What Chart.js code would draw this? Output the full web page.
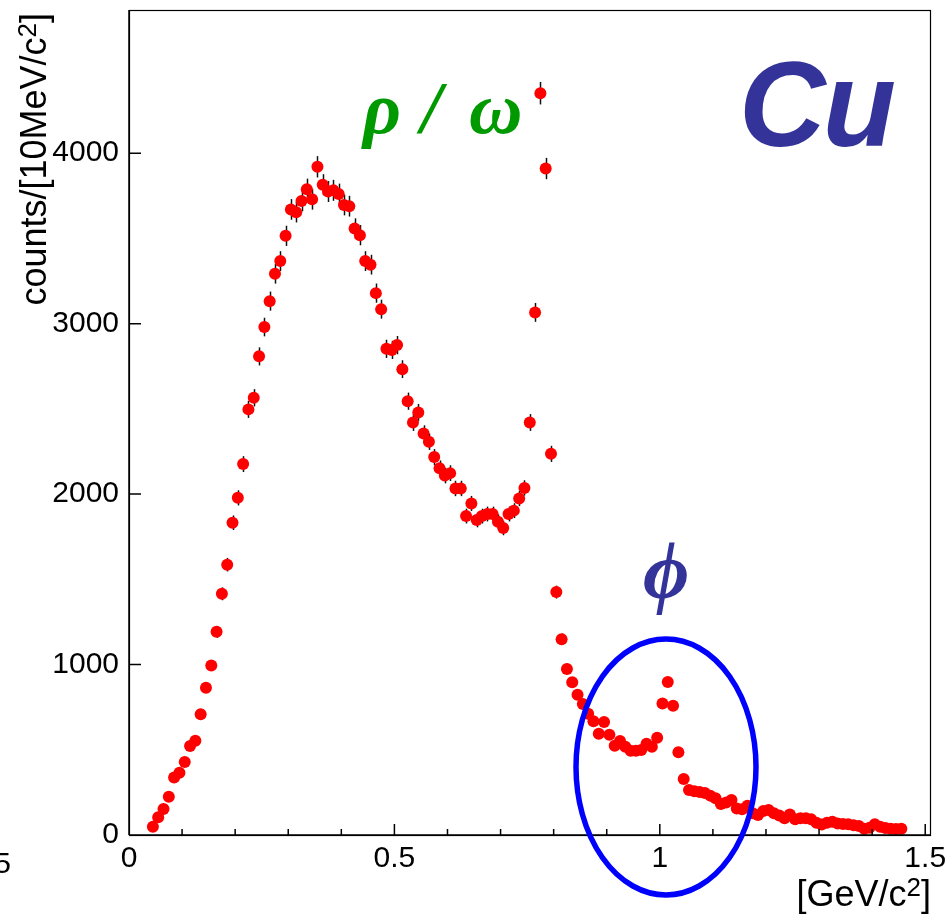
<!DOCTYPE html>
<html>
<head>
<meta charset="utf-8">
<script src="https://cdn.jsdelivr.net/npm/chart.js@4.4.1/dist/chart.umd.min.js"></script>
<style>
  html, body { margin: 0; padding: 0; background: #fff; }
  #wrap { width: 950px; height: 915px; position: relative; }
</style>
</head>
<body>
<div id="wrap"><canvas id="massChart"></canvas></div>
<script>
// bin centres [GeV/c^2], 10 MeV bins
var massBins = [
  0.045, 0.055, 0.065, 0.075, 0.085, 0.095, 0.105, 0.115, 0.125, 0.135,
  0.145, 0.155, 0.165, 0.175, 0.185, 0.195, 0.205, 0.215, 0.225, 0.235,
  0.245, 0.255, 0.265, 0.275, 0.285, 0.295, 0.305, 0.315, 0.325, 0.335,
  0.345, 0.355, 0.365, 0.375, 0.385, 0.395, 0.405, 0.415, 0.425, 0.435,
  0.445, 0.455, 0.465, 0.475, 0.485, 0.495, 0.505, 0.515, 0.525, 0.535,
  0.545, 0.555, 0.565, 0.575, 0.585, 0.595, 0.605, 0.615, 0.625, 0.635,
  0.645, 0.655, 0.665, 0.675, 0.685, 0.695, 0.705, 0.715, 0.725, 0.735,
  0.745, 0.755, 0.765, 0.775, 0.785, 0.795, 0.805, 0.815, 0.825, 0.835,
  0.845, 0.855, 0.865, 0.875, 0.885, 0.895, 0.905, 0.915, 0.925, 0.935,
  0.945, 0.955, 0.965, 0.975, 0.985, 0.995, 1.005, 1.015, 1.025, 1.035,
  1.045, 1.055, 1.065, 1.075, 1.085, 1.095, 1.105, 1.115, 1.125, 1.135,
  1.145, 1.155, 1.165, 1.175, 1.185, 1.195, 1.205, 1.215, 1.225, 1.235,
  1.245, 1.255, 1.265, 1.275, 1.285, 1.295, 1.305, 1.315, 1.325, 1.335,
  1.345, 1.355, 1.365, 1.375, 1.385, 1.395, 1.405, 1.415, 1.425, 1.435,
  1.445, 1.455
];
var counts = [
  49, 104, 152, 225, 338, 365, 428, 522, 553, 708, 864, 995, 1192, 1415, 1586,
  1832, 1978, 2176, 2497, 2565, 2808, 2980, 3132, 3292, 3367, 3515, 3670, 3654, 3720, 3789,
  3730, 3920, 3815, 3775, 3782, 3760, 3696, 3689, 3558, 3519, 3367, 3346, 3179, 3085, 2852,
  2846, 2874, 2733, 2545, 2420, 2479, 2355, 2307, 2217, 2151, 2109, 2123, 2033, 2033, 1871,
  1945, 1848, 1871, 1883, 1883, 1838, 1801, 1883, 1903, 1974, 2036, 2420, 3066, 4352, 3910,
  2236, 1425, 1148, 974, 896, 823, 768, 711, 667, 594, 663, 588, 524, 551, 518,
  494, 494, 498, 535, 518, 571, 772, 897, 758, 485, 328, 264, 256, 252, 246,
  231, 215, 182, 190, 205, 156, 151, 172, 127, 117, 141, 147, 127, 115, 98,
  121, 92, 98, 98, 92, 72, 61, 72, 78, 68, 65, 63, 57, 53, 37,
  43, 63, 49, 41, 37, 35, 37
];
var xMajorTicks = [0, 0.5, 1, 1.5];
var xMinorTicks = [0.1, 0.2, 0.3, 0.4, 0.6, 0.7, 0.8, 0.9, 1.1, 1.2, 1.3, 1.4];
var yMajorTicks = [0, 1000, 2000, 3000, 4000];

var points = [];
for (let i = 0; i < counts.length; i++) {
  points.push({x: massBins[i], y: counts[i]});
}

var labelFont = "'Liberation Sans', Arial, sans-serif";
var greekFont = "'Liberation Serif', 'DejaVu Serif', serif";

// statistical error bars, drawn under the markers
var errorBars = {
  id: 'errorBars',
  beforeDatasetsDraw(chart) {
    const ctx = chart.ctx, xs = chart.scales.x, ys = chart.scales.y, a = chart.chartArea;
    ctx.save();
    ctx.beginPath();
    ctx.rect(a.left, a.top, a.right - a.left, a.bottom - a.top);
    ctx.clip();
    ctx.strokeStyle = '#111';
    ctx.lineWidth = 1.5;
    points.forEach(p => {
      const e = Math.sqrt(p.y);
      const px = Math.round(xs.getPixelForValue(p.x)) + 0.5;
      ctx.beginPath();
      ctx.moveTo(px, ys.getPixelForValue(p.y + e));
      ctx.lineTo(px, ys.getPixelForValue(p.y - e));
      ctx.stroke();
    });
    ctx.restore();
  }
};

// ROOT style frame with inward ticks
var frame = {
  id: 'frame',
  afterDatasetsDraw(chart) {
    const ctx = chart.ctx, xs = chart.scales.x, ys = chart.scales.y, a = chart.chartArea;
    ctx.save();
    ctx.strokeStyle = '#000';
    ctx.lineWidth = 1.2;
    ctx.strokeRect(a.left + 0.5, a.top + 0.5, a.right - a.left, a.bottom - a.top);
    ctx.lineWidth = 1.5;
    ctx.beginPath();
    ctx.moveTo(a.left, a.bottom); ctx.lineTo(a.right, a.bottom);
    ctx.moveTo(a.left, a.bottom); ctx.lineTo(a.left, a.top);
    xMajorTicks.forEach(v => {
      const px = xs.getPixelForValue(v);
      ctx.moveTo(px, a.bottom); ctx.lineTo(px, a.bottom - 11);
    });
    xMinorTicks.forEach(v => {
      const px = xs.getPixelForValue(v);
      ctx.moveTo(px, a.bottom); ctx.lineTo(px, a.bottom - 6);
    });
    yMajorTicks.forEach(v => {
      const py = ys.getPixelForValue(v);
      ctx.moveTo(a.left, py); ctx.lineTo(a.left + 12, py);
    });
    ctx.stroke();
    ctx.restore();
  }
};

function drawSupText(ctx, parts, x, y, align) {
  // parts: [text, superscript, text]
  const big = '36px ' + labelFont, small = '26px ' + labelFont;
  ctx.font = big;
  const w0 = ctx.measureText(parts[0]).width, w2 = ctx.measureText(parts[2]).width;
  ctx.font = small;
  const w1 = ctx.measureText(parts[1]).width;
  let sx = align === 'right' ? x - (w0 + w1 + w2) : x;
  ctx.textAlign = 'left';
  ctx.textBaseline = 'alphabetic';
  ctx.font = big;
  ctx.fillText(parts[0], sx, y);
  ctx.font = small;
  ctx.fillText(parts[1], sx + w0, y - 10);
  ctx.font = big;
  ctx.fillText(parts[2], sx + w0 + w1, y);
}

var annotations = {
  id: 'annotations',
  afterDraw(chart) {
    const ctx = chart.ctx;
    ctx.save();
    ctx.fillStyle = '#000';
    // axis titles
    drawSupText(ctx, ['[GeV/c', '2', ']'], 931, 906, 'right');
    ctx.save();
    ctx.translate(46, 13);
    ctx.rotate(-Math.PI / 2);
    drawSupText(ctx, ['counts/[10MeV/c', '2', ']'], 0, 0, 'right');
    ctx.restore();

    // fragment of neighbouring label
    ctx.font = '30px ' + labelFont;
    ctx.textAlign = 'right';
    ctx.fillText('5', 11, 873);

    // resonance labels
    ctx.textAlign = 'left';
    ctx.fillStyle = '#009900';
    ctx.font = "italic bold 74px " + greekFont;
    ctx.fillText('\u03C1', 363, 133);
    ctx.fillText('/', 421, 133);
    ctx.fillText('\u03C9', 469, 133);

    ctx.fillStyle = '#333399';
    ctx.font = "italic bold 80px " + greekFont;
    ctx.fillText('\u03D5', 643, 598);

    ctx.font = "italic bold 120px " + labelFont;
    ctx.letterSpacing = '-3px';
    ctx.fillText('Cu', 739, 146);
    ctx.letterSpacing = '0px';

    // phi region marker
    ctx.strokeStyle = '#0000ff';
    ctx.lineWidth = 5.5;
    ctx.beginPath();
    ctx.ellipse(666, 767, 90, 128, 0, 0, Math.PI * 2);
    ctx.stroke();
    ctx.restore();
  }
};

new Chart("massChart", {
  type: "scatter",
  data: {
    datasets: [{
      data: points,
      backgroundColor: '#ff0000',
      borderWidth: 0,
      pointRadius: 6,
      pointHoverRadius: 6
    }]
  },
  options: {
    responsive: true,
    maintainAspectRatio: false,
    animation: false,
    events: [],
    layout: { padding: { left: 0, top: 10, right: 20, bottom: 0 } },
    scales: {
      x: {
        type: 'linear',
        min: 0,
        max: 1.509,
        grid: { display: false, drawTicks: false },
        border: { display: false },
        afterBuildTicks: s => { s.ticks = xMajorTicks.map(v => ({value: v})); },
        afterFit: s => { s.height = 80; s.paddingLeft = 0; s.paddingRight = 0; },
        ticks: {
          padding: 6,
          maxRotation: 0,
          color: '#000',
          font: { family: labelFont, size: 30 },
          callback: v => String(v)
        }
      },
      y: {
        min: 0,
        max: 4840,
        grid: { display: false, drawTicks: false },
        border: { display: false },
        afterBuildTicks: s => { s.ticks = yMajorTicks.map(v => ({value: v})); },
        afterFit: s => { s.width = 129; s.paddingTop = 0; s.paddingBottom = 0; },
        ticks: {
          padding: 10,
          color: '#000',
          font: { family: labelFont, size: 30 },
          callback: v => String(v)
        }
      }
    },
    plugins: {
      legend: { display: false },
      tooltip: { enabled: false }
    }
  },
  plugins: [errorBars, frame, annotations]
});
</script>
</body>
</html>
